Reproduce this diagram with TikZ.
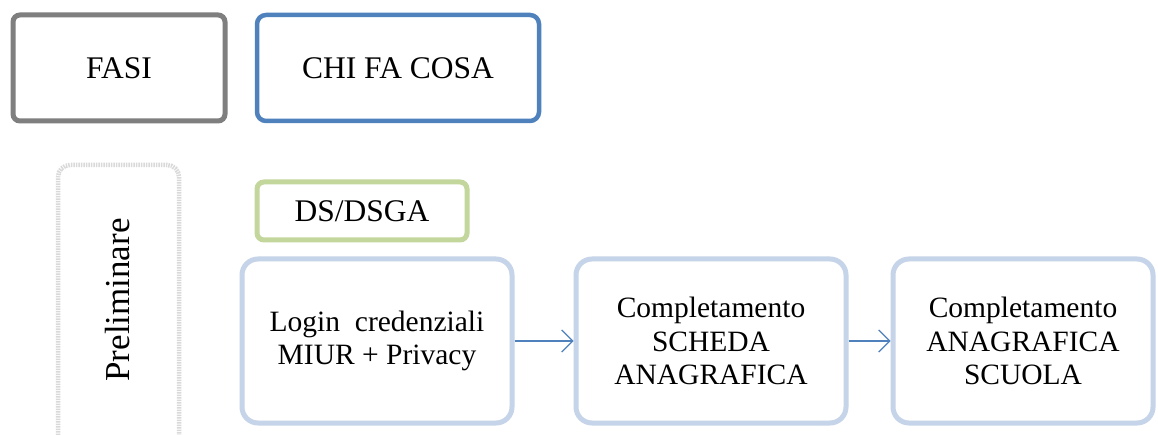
\documentclass[tikz,border=0pt]{standalone}
\usepackage{fontspec}
\setmainfont{Liberation Serif}
\usetikzlibrary{arrows.meta}
\definecolor{fgray}{HTML}{7F7F7F}
\definecolor{fblue}{HTML}{4F81BD}
\definecolor{fgreen}{HTML}{C3D69B}
\definecolor{flight}{HTML}{C5D4E8}
\definecolor{fdot}{HTML}{D9D9D9}
\tikzset{
  base/.style={rectangle, align=center, inner sep=0pt, font=\fontsize{29.5}{33.5}\selectfont},
  graybox/.style={base, draw=fgray, line width=5pt, rounded corners=7pt, font=\fontsize{31.5}{35}\selectfont},
  bluebox/.style={base, draw=fblue, line width=4.5pt, rounded corners=9pt, font=\fontsize{31.5}{35}\selectfont},
  greenbox/.style={base, draw=fgreen, line width=5pt, rounded corners=7pt, font=\fontsize{31.5}{35}\selectfont},
  flowbox/.style={base, draw=flight, line width=5pt, rounded corners=16pt},
  arr/.style={draw=fblue, line width=1.2pt, -{Straight Barb[length=11pt,width=22pt]}}
}
\begin{document}
\begin{tikzpicture}[x=1pt,y=-1pt]
\useasboundingbox[fill=white] (0,0) rectangle (1158,435);
% header
\node[graybox, minimum width=212pt, minimum height=106pt] (fasi) at (119,68) {FASI};
\node[bluebox, minimum width=282pt, minimum height=106pt] (chi) at (398,68) {CHI FA COSA};
% phase column
\draw[fdot, line width=4.5pt, dash pattern=on 1.5pt off 1pt, rounded corners=12pt]
  (58,440) -- (58,165) -- (179,165) -- (179,440);
\node[base, rotate=90, font=\fontsize{35}{40}\selectfont] (prel) at (118,300) {Preliminare};
% actor
\node[greenbox, minimum width=210pt, minimum height=58pt] (ds) at (362,211) {DS/DSGA};
% flow
\node[flowbox, minimum width=270pt, minimum height=164pt] (login) at (377,341) {Login\hspace{0.5em}credenziali\\MIUR + Privacy};
\node[flowbox, minimum width=270pt, minimum height=164pt] (scheda) at (711,341) {Completamento\\SCHEDA\\ANAGRAFICA};
\node[flowbox, minimum width=260pt, minimum height=164pt] (scuola) at (1023,341) {Completamento\\ANAGRAFICA\\SCUOLA};
\draw[arr] (login) -- (scheda);
\draw[arr] (scheda) -- (scuola);
\end{tikzpicture}
\end{document}
